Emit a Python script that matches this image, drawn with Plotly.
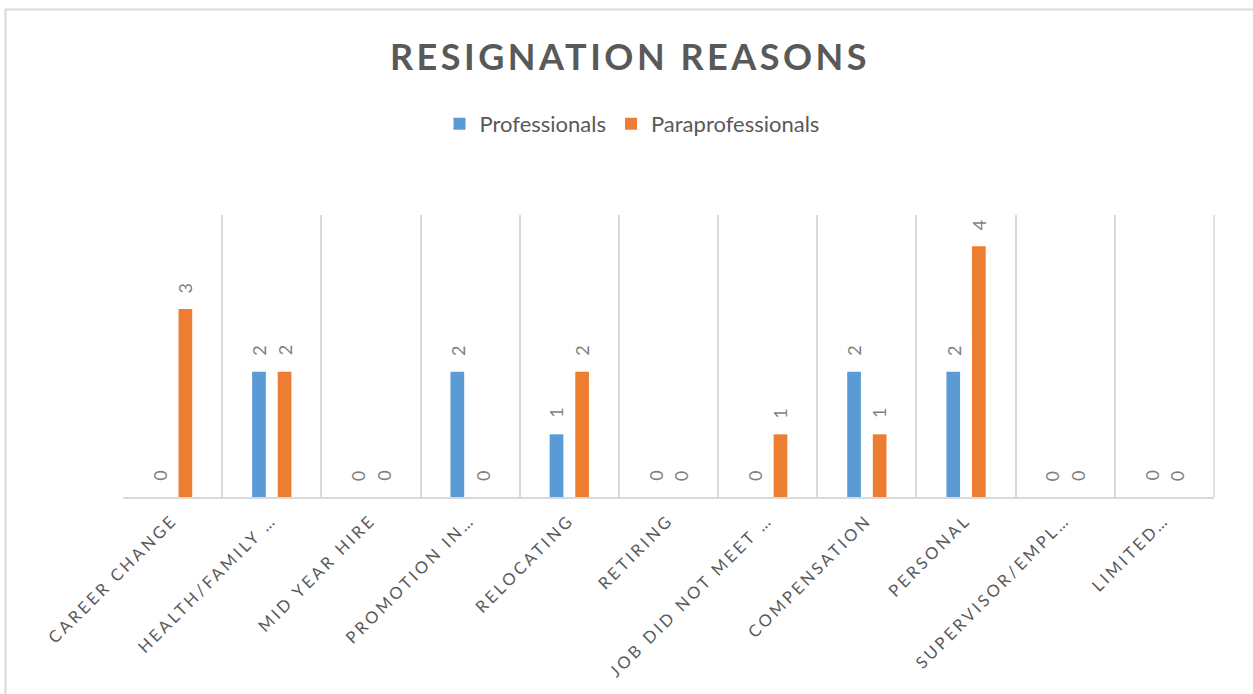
import plotly.graph_objects as go

# Resignation reasons by staff group
categories = [
    "CAREER CHANGE", "HEALTH/FAMILY …", "MID YEAR HIRE", "PROMOTION IN…",
    "RELOCATING", "RETIRING", "JOB DID NOT MEET …", "COMPENSATION",
    "PERSONAL", "SUPERVISOR/EMPL…", "LIMITED…",
]
professionals = [0, 2, 0, 2, 1, 0, 0, 2, 2, 0, 0]
paraprofessionals = [3, 2, 0, 0, 2, 0, 1, 1, 4, 0, 0]

BLUE = "#5b9bd5"
ORANGE = "#ed7d31"
GRID = "#d9d9d9"
TEXT = "#595959"
LABEL = "#7f7f7f"
FONT = "Lato"

W, H = 1253, 694
L, R, T, B = 123, 39, 215, 197
PW, PH = W - L - R, H - T - B

def spaced(s, px):
    return f'<span style="letter-spacing:{px}px">{s}</span>'

fig = go.Figure()
fig.add_bar(name="Professionals", x=categories, y=professionals,
            marker=dict(color=BLUE, line=dict(width=0)))
fig.add_bar(name="Paraprofessionals", x=categories, y=paraprofessionals,
            marker=dict(color=ORANGE, line=dict(width=0)))

# rotated value labels above each bar
offset = 12.8
for series, dx in ((professionals, -offset), (paraprofessionals, offset)):
    for cat, v in zip(categories, series):
        fig.add_annotation(x=cat, y=v, text=str(v), showarrow=False,
                           textangle=-90, xanchor="center", yanchor="middle",
                           xshift=dx, yshift=21,
                           font=dict(family=FONT, size=18, color=LABEL))

# chart frame
def px_x(p):
    return (p - L) / PW

def px_y(p):
    return (H - B - p) / PH

fig.add_shape(type="rect", xref="paper", yref="paper",
              x0=px_x(5.5), x1=px_x(1300), y0=px_y(9.5), y1=px_y(760),
              line=dict(color=GRID, width=2), fillcolor="rgba(0,0,0,0)",
              layer="below")

fig.update_layout(
    width=W, height=H,
    margin=dict(l=L, r=R, t=T, b=B, pad=0, autoexpand=False),
    paper_bgcolor="white", plot_bgcolor="white",
    barmode="group", bargap=0.484, bargroupgap=0.465,
    font=dict(family=FONT, color=TEXT),
    title=dict(text=spaced("<b>RESIGNATION REASONS</b>", 3.5),
               x=630 / W, xanchor="center", y=1 - 57 / H, yanchor="middle",
               font=dict(family=FONT, size=36, color=TEXT)),
    legend=dict(orientation="h", x=px_x(632), xanchor="center",
                y=px_y(124), yanchor="middle", itemwidth=30,
                font=dict(family=FONT, size=22, color=TEXT),
                itemclick=False, traceorder="normal"),
    showlegend=True,
    xaxis=dict(
        type="category", tickson="boundaries", showgrid=True,
        gridcolor=GRID, gridwidth=1.5, showline=True, linecolor=GRID,
        linewidth=2, ticks="", tickangle=-45, automargin=False,
        tickvals=categories,
        ticktext=[spaced(c, 3) for c in categories],
        tickfont=dict(family=FONT, size=16.5, color=TEXT),
        ticklabelshift=0, ticklabelstandoff=5,
        range=[-0.5, len(categories) - 0.5], fixedrange=True,
    ),
    yaxis=dict(range=[0, 4.5], showgrid=False, zeroline=False,
               showticklabels=False, ticks="", showline=False,
               fixedrange=True, automargin=False),
)
# right edge gridline
fig.add_shape(type="line", xref="paper", yref="paper", x0=1, x1=1, y0=0, y1=1,
              line=dict(color=GRID, width=1.5))

fig.write_html("out.html")
